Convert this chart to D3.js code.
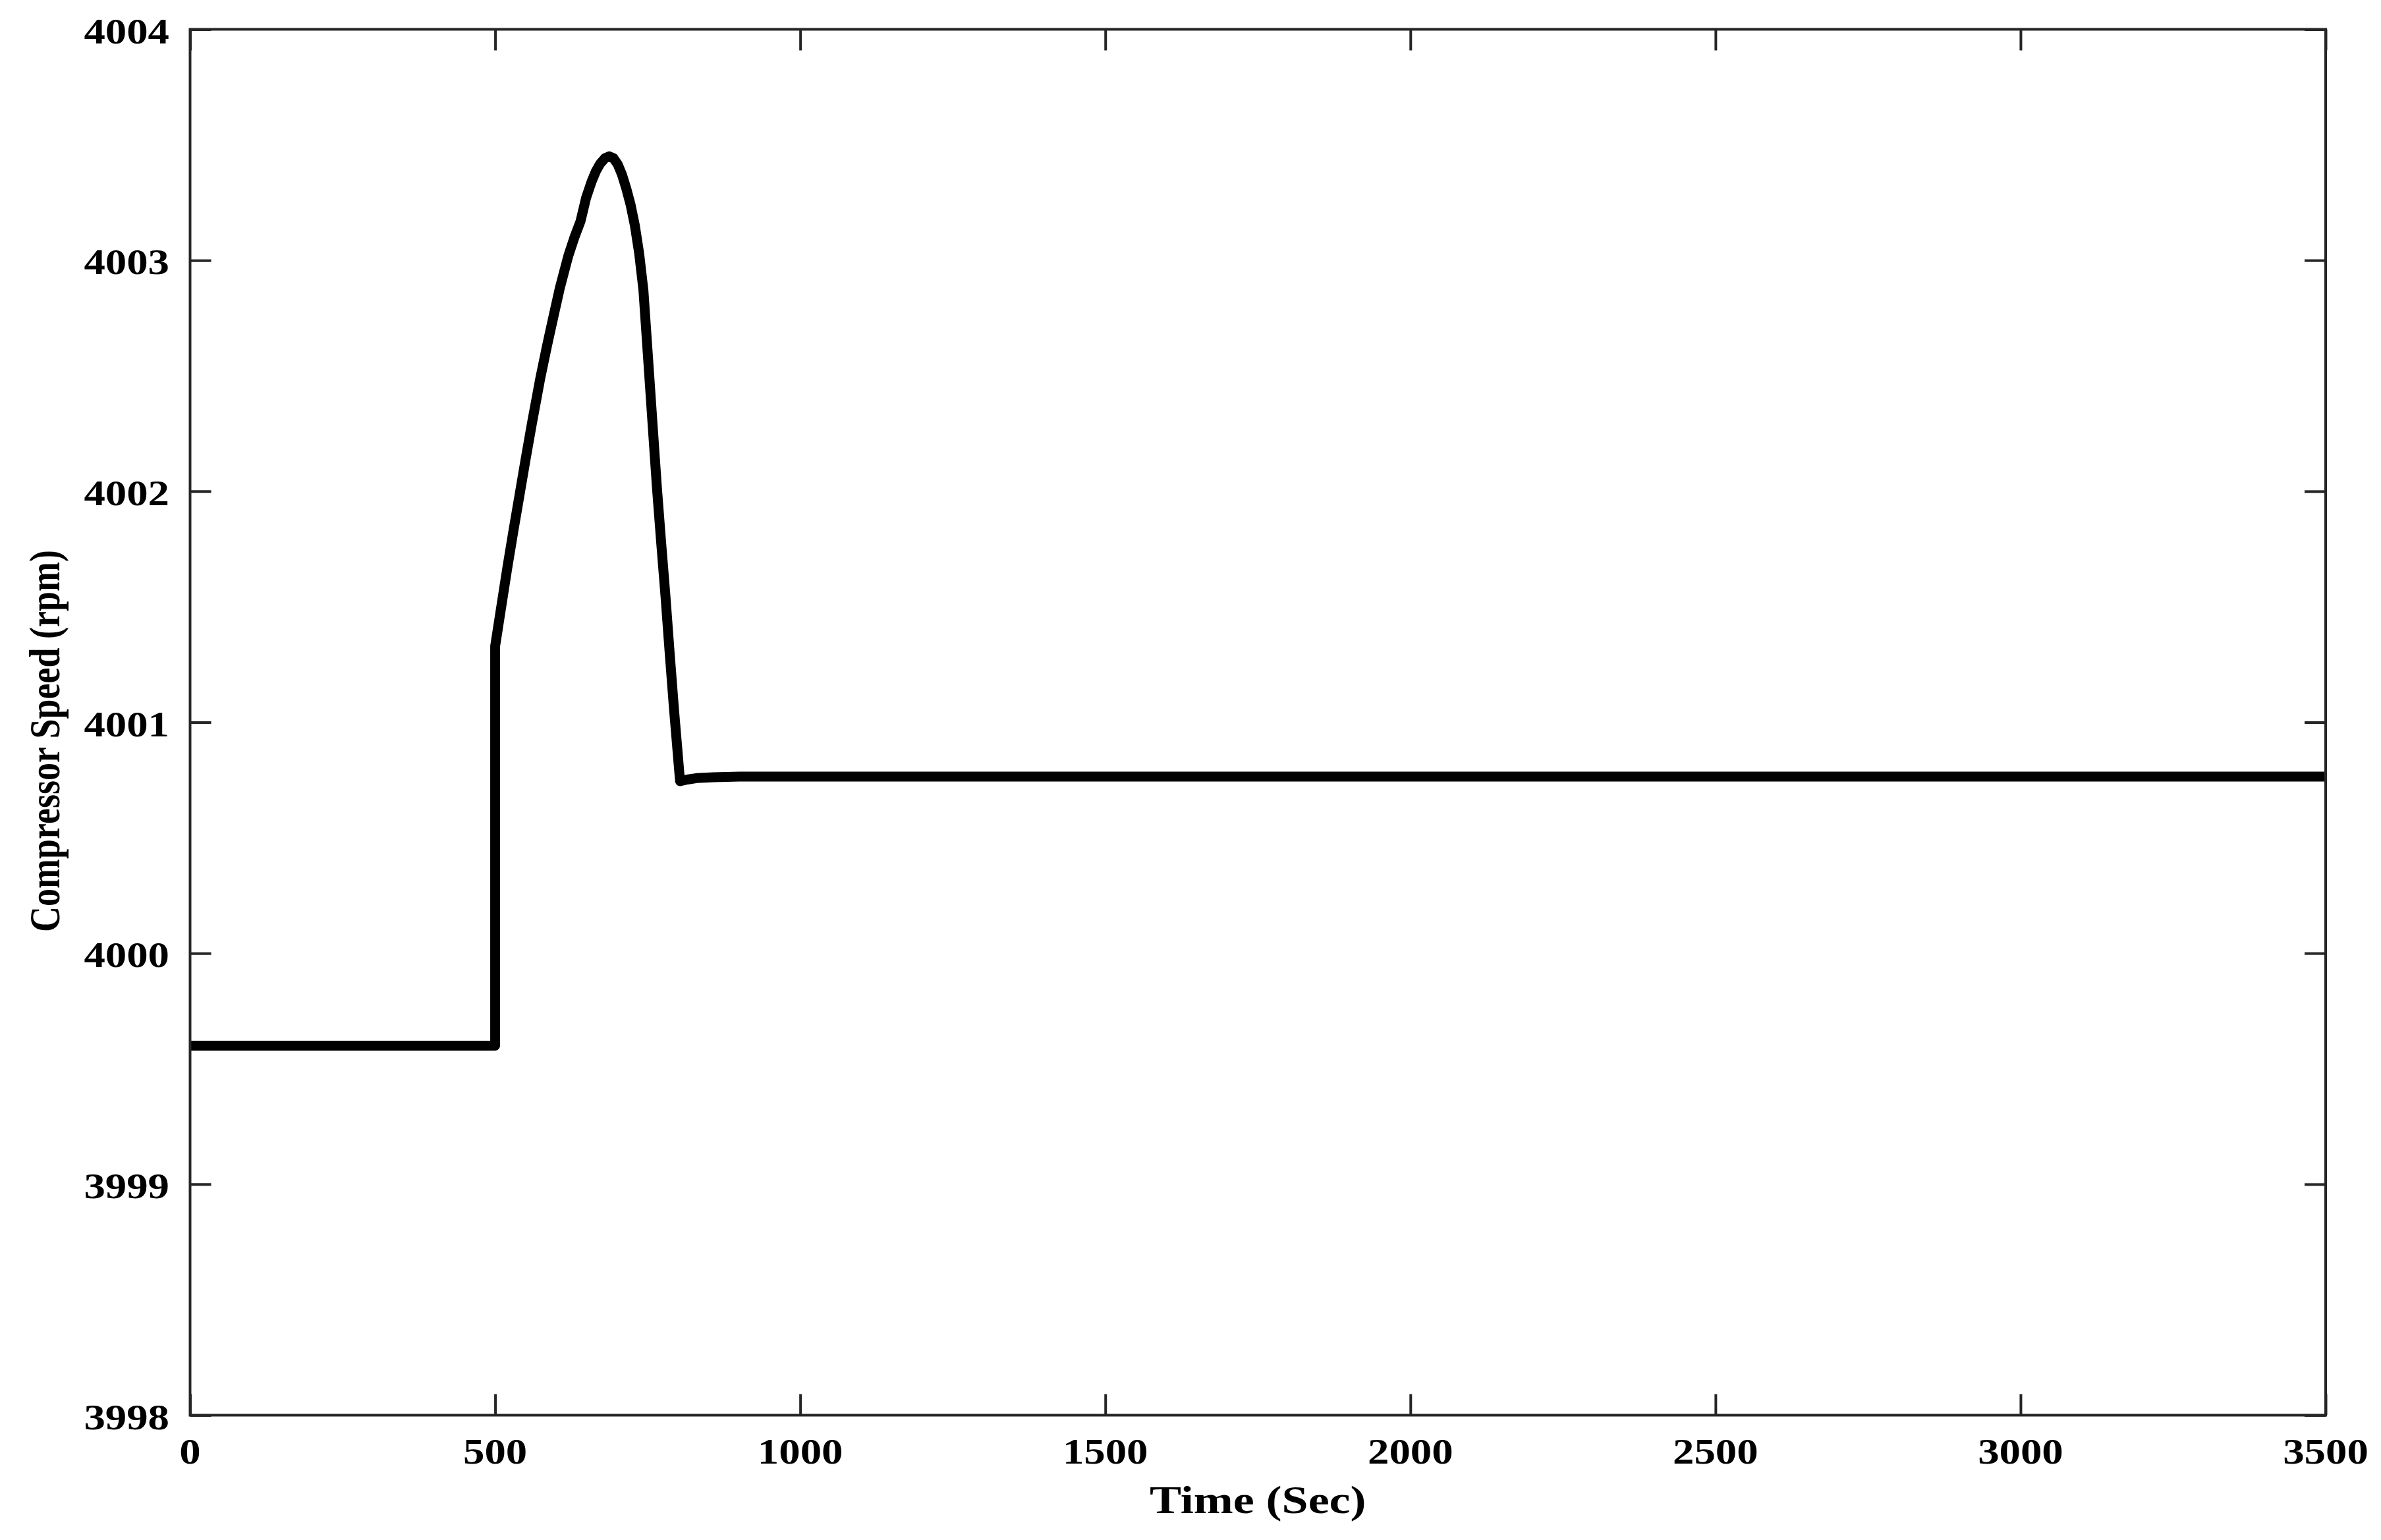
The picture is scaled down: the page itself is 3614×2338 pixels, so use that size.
<!DOCTYPE html>
<html>
<head>
<meta charset="utf-8">
<script src="https://cdn.jsdelivr.net/npm/d3@7"></script>
<style>
  html, body { margin: 0; padding: 0; background: #ffffff; }
  svg { display: block; }
  text { font-family: "Liberation Serif", "Times New Roman", serif; font-weight: bold; fill: #000; }
</style>
</head>
<body>
<script>
// ---- data ----
const timeSec = [0, 500, 500, 510, 520, 530, 541, 550, 560, 574, 585, 595, 606, 615, 620, 630, 640,
  649, 658, 665, 672, 680, 687, 694, 701, 708, 715, 722, 729, 736, 743, 750, 758, 765, 772, 779, 786, 793, 803,
  815, 830, 858, 900, 1000, 3500];
const speedRpm = [3999.60, 3999.60, 4001.33, 4001.50, 4001.67, 4001.83, 4002.00, 4002.14, 4002.29, 4002.49, 4002.63, 4002.75, 4002.88, 4002.97, 4003.02, 4003.10, 4003.17,
  4003.27, 4003.34, 4003.385, 4003.418, 4003.442, 4003.45, 4003.442, 4003.415, 4003.37, 4003.31, 4003.24, 4003.15, 4003.03, 4002.87, 4002.60, 4002.29, 4002.02, 4001.78, 4001.55, 4001.30, 4001.06, 4000.745,
  4000.752, 4000.758, 4000.762, 4000.765, 4000.765, 4000.765];
const xTicks = [0, 500, 1000, 1500, 2000, 2500, 3000, 3500];
const yTicks = [3998, 3999, 4000, 4001, 4002, 4003, 4004];
const xTitle = "Time (Sec)";
const yTitle = "Compressor Speed (rpm)";

// ---- layout ----
const W = 3614, H = 2338;
const L = 288.5, R = 3530, T = 44.5, B = 2148.5;
const frameColor = "#262626";
const tickLen = 32;

const svg = d3.select("body").append("svg").attr("width", W).attr("height", H);
svg.append("rect").attr("width", W).attr("height", H).attr("fill", "#fff");

const x = d3.scaleLinear().domain([0, 3500]).range([L, R]);
const y = d3.scaleLinear().domain([3998, 4004]).range([B, T]);

// ticks via axes (inward)
function styleAxis(g) {
  g.select(".domain").remove();
  g.selectAll(".tick line").attr("stroke", frameColor).attr("stroke-width", 4);
  g.selectAll(".tick text").remove();
}
svg.append("g").attr("transform", `translate(0,${B})`)
  .call(d3.axisBottom(x).tickValues(xTicks).tickSizeInner(-tickLen).tickSizeOuter(0)).call(styleAxis);
svg.append("g").attr("transform", `translate(0,${T})`)
  .call(d3.axisTop(x).tickValues(xTicks).tickSizeInner(-tickLen).tickSizeOuter(0)).call(styleAxis);
svg.append("g").attr("transform", `translate(${L},0)`)
  .call(d3.axisLeft(y).tickValues(yTicks).tickSizeInner(-tickLen).tickSizeOuter(0)).call(styleAxis);
svg.append("g").attr("transform", `translate(${R},0)`)
  .call(d3.axisRight(y).tickValues(yTicks).tickSizeInner(-tickLen).tickSizeOuter(0)).call(styleAxis);

// data line
const line = d3.line().x((d, i) => x(timeSec[i])).y(d => y(d));
svg.append("path")
  .attr("d", line(speedRpm))
  .attr("fill", "none")
  .attr("stroke", "#000")
  .attr("stroke-width", 15)
  .attr("stroke-linejoin", "round");

// frame
svg.append("rect")
  .attr("x", L).attr("y", T).attr("width", R - L).attr("height", B - T)
  .attr("fill", "none").attr("stroke", frameColor).attr("stroke-width", 4);

// tick labels
const stretch = 1.2;
svg.append("g").selectAll("g").data(xTicks).join("g")
  .attr("transform", d => `translate(${x(d)},2222)`)
  .append("text").attr("text-anchor", "middle").attr("font-size", 54)
  .attr("transform", `scale(${stretch},1)`).text(d => d);
svg.append("g").selectAll("g").data(yTicks).join("g")
  .attr("transform", d => `translate(257,${y(d) + 21})`)
  .append("text").attr("text-anchor", "end").attr("font-size", 54)
  .attr("transform", `scale(${stretch},1)`).text(d => d);

// axis titles
svg.append("g").attr("transform", `translate(${(L + R) / 2},2297)`)
  .append("text").attr("text-anchor", "middle").attr("font-size", 60)
  .attr("transform", `scale(${stretch},1)`).text(xTitle);
svg.append("g").attr("transform", `translate(90,1125) rotate(-90)`)
  .append("text").attr("text-anchor", "middle").attr("font-size", 54)
  .attr("transform", `scale(1,${stretch})`).text(yTitle);
</script>
</body>
</html>
